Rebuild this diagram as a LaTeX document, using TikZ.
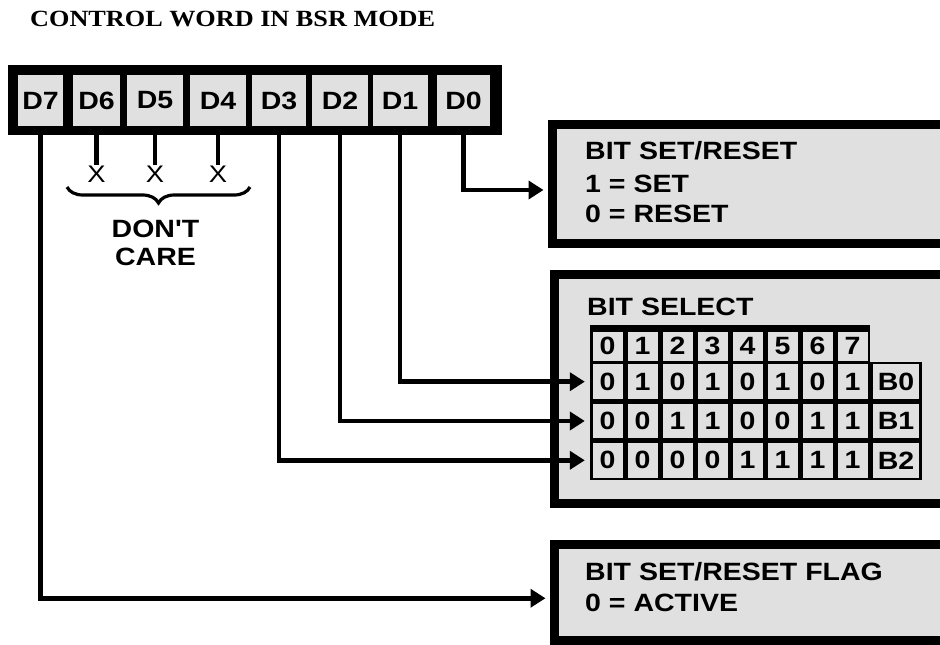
\documentclass[tikz,border=0pt]{standalone}
\usepackage{fontspec}
\newfontfamily\labfont{Liberation Sans}[FakeStretch=1.14]
\newfontfamily\ttlfont{Liberation Serif}[FakeStretch=1.13]
\usetikzlibrary{arrows.meta,decorations.pathreplacing,calc}
\definecolor{pat}{gray}{0.88}
\begin{document}
\begin{tikzpicture}[x=1pt,y=-1pt,
  bigtxt/.style={font=\labfont\bfseries\fontsize{25}{28}\selectfont},
  cell/.style={fill=pat, inner sep=0, minimum height=51, bigtxt},
  panel/.style={draw=black, fill=pat, line width=9pt, inner sep=0},
  wire/.style={line width=4.5pt},
  conn/.style={line width=4.5pt, -{Triangle[length=15pt,width=18pt]}},
  lbl/.style={anchor=base west, inner sep=0, bigtxt},
  hcell/.style={fill=pat, inner sep=0, minimum width=30, minimum height=29, bigtxt},
  dcell/.style={fill=pat, inner sep=0, minimum width=30, minimum height=34.5, bigtxt},
  bcell/.style={fill=pat, inner sep=0, minimum width=46, minimum height=34.5, bigtxt},
  blk/.style={fill=black, inner sep=0}
]
\useasboundingbox (0,0) rectangle (940,645);
\clip (0,0) rectangle (940,645);

% title
\node[anchor=base west, inner sep=0, font=\ttlfont\bfseries\fontsize{23.2}{26}\selectfont] (title) at (30,27) {CONTROL WORD IN BSR MODE};

% panels
\node[panel, minimum width=407.5, minimum height=119] (box1) at (756.25,184) {};
\node[panel, minimum width=405.5, minimum height=229] (box2) at (757.25,389) {};
\node[panel, minimum width=405.5, minimum height=95.5] (box3) at (757.25,592.25) {};

\node[lbl] (b1a) at (585,159) {BIT SET/RESET};
\node[lbl] (b1b) at (585,192) {1 = SET};
\node[lbl] (b1c) at (585,222) {0 = RESET};
\node[lbl] (b2a) at (587,315) {BIT SELECT};
\node[lbl] (b3a) at (585,580) {BIT SET/RESET FLAG};
\node[lbl] (b3b) at (585,611) {0 = ACTIVE};

% table
\node[blk, minimum width=280, minimum height=39] (thead) at (730,344.5) {};
\node[blk, minimum width=332, minimum height=39.4] (rowB0) at (756,381.7) {};
\node[blk, minimum width=332, minimum height=39.4] (rowB1) at (756,421) {};
\node[blk, minimum width=332, minimum height=39.4] (rowB2) at (756,460.3) {};
\foreach \i in {0,...,7} {
  \node[hcell] (h\i) at (607.5+35*\i,346) {\i};
}
\foreach \v [count=\i from 0] in {0,1,0,1,0,1,0,1} {
  \node[dcell] (p\i) at (607.5+35*\i,381.7) {\v};
}
\foreach \v [count=\i from 0] in {0,0,1,1,0,0,1,1} {
  \node[dcell] (q\i) at (607.5+35*\i,421) {\v};
}
\foreach \v [count=\i from 0] in {0,0,0,0,1,1,1,1} {
  \node[dcell] (s\i) at (607.5+35*\i,460.3) {\v};
}
\node[bcell] (lb0) at (896,381.7) {B0};
\node[bcell] (lb1) at (896,421) {B1};
\node[bcell] (lb2) at (896,460.3) {B2};

% register
\node[blk, minimum width=494, minimum height=70] (reg) at (255,100) {};
\node[cell, minimum width=45] (d7) at (40.5,100.5) {D7};
\node[cell, minimum width=47] (d6) at (96.5,100.5) {D6};
\node[cell, minimum width=56] (d5) at (155,100.5) {D5};
\node[cell, minimum width=56] (d4) at (218,100.5) {D4};
\node[cell, minimum width=54] (d3) at (279,100.5) {D3};
\node[cell, minimum width=56] (d2) at (340,100.5) {D2};
\node[cell, minimum width=55] (d1) at (400,100.5) {D1};
\node[cell, minimum width=53] (d0) at (463.5,100.5) {D0};

% don't care
\node[anchor=base, inner sep=0, font=\labfont\fontsize{24}{28}\selectfont] (x6) at (96.5,182) {X};
\node[anchor=base, inner sep=0, font=\labfont\fontsize{24}{28}\selectfont] (x5) at (155,182) {X};
\node[anchor=base, inner sep=0, font=\labfont\fontsize{24}{28}\selectfont] (x4) at (218,182) {X};
\draw[wire] (d6.south) -- (x6.north);
\draw[wire] (d5.south) -- (x5.north);
\draw[wire] (d4.south) -- (x4.north);
\draw[line width=3.2pt, decorate, decoration={brace, amplitude=16pt}] (250,187) -- (67,187);
\node[anchor=base, inner sep=0, bigtxt] (dont) at (155.5,237) {DON'T};
\node[anchor=base, inner sep=0, bigtxt] (care) at (155.5,265) {CARE};

% connectors
\draw[conn, shorten >=4.5pt] (d0.south) |- ([yshift=-6pt]box1.west);
\draw[conn, shorten >=5pt] (d1.south) |- (rowB0.west);
\draw[conn, shorten >=5pt] (d2.south) |- (rowB1.west);
\draw[conn, shorten >=5pt] (d3.south) |- (rowB2.west);
\draw[conn, shorten >=4.5pt] (d7.south) |- ([yshift=-6pt]box3.west);
\end{tikzpicture}
\end{document}
